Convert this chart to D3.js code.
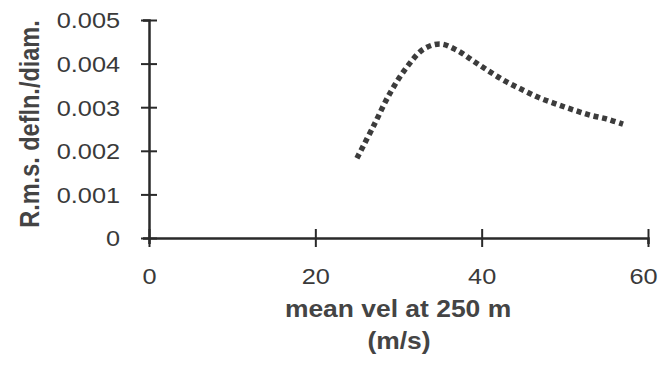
<!DOCTYPE html>
<html>
<head>
<meta charset="utf-8">
<script src="https://cdn.jsdelivr.net/npm/d3@7"></script>
<style>
  body { margin: 0; background: #fff; }
  text { font-family: "Liberation Sans", Arial, sans-serif; fill: #333; }
</style>
</head>
<body>
<svg id="chart" width="660" height="365"></svg>
<script>
// values
const vel = [25, 27, 29, 31, 33, 35, 37, 39, 41, 43, 45, 47, 49, 51, 53, 55, 57];
const defl = [0.00183, 0.00257, 0.00333, 0.00392, 0.00433, 0.00445, 0.00431, 0.00406,
  0.00381, 0.00358, 0.00339, 0.00321, 0.00307, 0.00294, 0.00282, 0.00273, 0.00261];
const xTicks = [0, 20, 40, 60];
const yTicks = [0, 0.001, 0.002, 0.003, 0.004, 0.005];

const stretch = 1.15; // the scan is a bit wider than tall
const svg = d3.select("#chart");

const x = d3.scaleLinear().domain([0, 60]).range([149, 648]);
const y = d3.scaleLinear().domain([0, 0.005]).range([238, 20]);

// y axis
const gy = svg.append("g")
  .attr("transform", "translate(" + x(0) + ",0)")
  .call(d3.axisLeft(y).tickValues(yTicks).tickFormat(d => d === 0 ? "0" : d3.format(".3f")(d)));
gy.select(".domain").attr("stroke", "#2a2a2a").attr("stroke-width", 2.5);
gy.selectAll(".tick line").attr("x1", 8).attr("x2", -8).attr("stroke", "#2a2a2a").attr("stroke-width", 2);
gy.selectAll(".tick text")
  .attr("x", -29 / stretch)
  .attr("dy", "0.36em")
  .attr("transform", "scale(" + stretch + ",1)")
  .style("font-size", "22px")
  .style("fill", "#3a3a3a");

// x axis
const gx = svg.append("g")
  .attr("transform", "translate(0," + y(0) + ")")
  .call(d3.axisBottom(x).tickValues(xTicks).tickFormat(d3.format("d")));
gx.select(".domain").attr("stroke", "#2a2a2a").attr("stroke-width", 2.5);
gx.selectAll(".tick line").attr("y1", -9).attr("y2", 9).attr("stroke", "#2a2a2a").attr("stroke-width", 2);
gx.selectAll(".tick text")
  .attr("y", 46)
  .attr("dy", 0)
  // last label sits against the right edge, nudge it in
  .attr("x", d => d === 60 ? -5 / stretch : 0)
  .attr("transform", "scale(" + stretch + ",1)")
  .style("font-size", "22px")
  .style("fill", "#3a3a3a");

// the curve
const pts = vel.map((v, i) => [v, defl[i]]);
const line = d3.line()
  .x(d => x(d[0]))
  .y(d => y(d[1]))
  .curve(d3.curveCatmullRom);
svg.append("path")
  .datum(pts)
  .attr("d", line)
  .attr("fill", "none")
  .attr("stroke", "#3c3c3c")
  .attr("stroke-width", 5.5)
  .attr("stroke-dasharray", "5,3.8");

// axis titles
svg.append("text")
  .attr("transform", "translate(398,317) scale(" + stretch + ",1)")
  .attr("text-anchor", "middle")
  .style("font-size", "23px")
  .style("font-weight", "bold")
  .style("fill", "#444")
  .text("mean vel at 250 m");
svg.append("text")
  .attr("transform", "translate(399,349) scale(" + stretch + ",1)")
  .attr("text-anchor", "middle")
  .style("font-size", "23px")
  .style("font-weight", "bold")
  .style("fill", "#444")
  .text("(m/s)");
svg.append("text")
  .attr("transform", "translate(39,124) scale(" + stretch + ",1) rotate(-90)")
  .attr("text-anchor", "middle")
  .style("font-size", "23.5px")
  .style("font-weight", "bold")
  .style("fill", "#444")
  .text("R.m.s. defln./diam.");
</script>
</body>
</html>
